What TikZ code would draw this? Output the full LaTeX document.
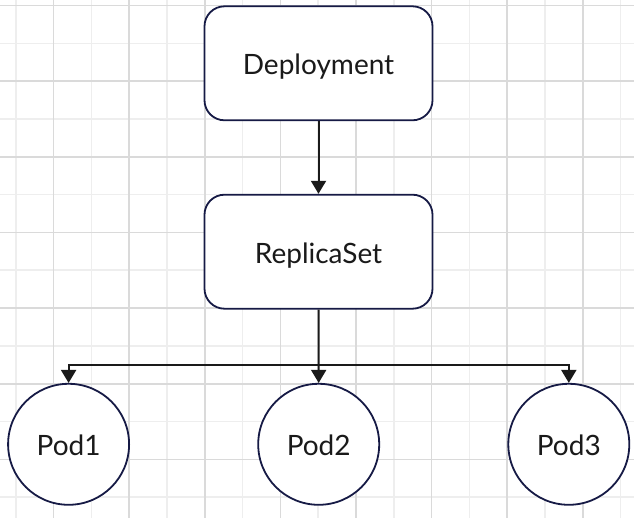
\documentclass[tikz,border=0pt]{standalone}
\usepackage{fontspec}
\newfontfamily\lblfont{Lato}
\usetikzlibrary{arrows.meta}
\definecolor{gridlight}{HTML}{EEEEEE}
\definecolor{griddark}{HTML}{DADADA}
\definecolor{edgeblue}{HTML}{161A45}
\definecolor{inkdark}{HTML}{1A1A1A}
\tikzset{
  lbl/.style={font=\lblfont\fontsize{28}{32}\selectfont, text=inkdark,
    text height=23pt, text depth=0pt},
  box/.style={draw=edgeblue, line width=1.8pt, rounded corners=20pt, fill=white,
    minimum width=228pt, minimum height=114pt, inner sep=0pt, lbl},
  pod/.style={draw=edgeblue, line width=1.8pt, circle, fill=white,
    minimum size=121pt, inner sep=0pt, lbl},
  conn/.style={draw=inkdark, line width=2pt, -{Triangle[length=13pt,width=15pt]}},
  glight/.style={gridlight, line width=1.6pt},
  gdark/.style={griddark, line width=1.6pt},
}
\begin{document}
\begin{tikzpicture}[x=1pt,y=1pt]
\useasboundingbox (0,0) rectangle (634,-518);
\fill[white] (0,0) rectangle (634,-518);
% grid
\foreach \k in {0,2,...,16} {\draw[glight] ({15.7+37.8*\k},0) -- ({15.7+37.8*\k},-518);}
\foreach \k in {1,3,...,13} {\draw[glight] (0,{-5.7-37.8*\k}) -- (634,{-5.7-37.8*\k});}
\foreach \k in {1,3,...,15} {\draw[gdark] ({15.7+37.8*\k},0) -- ({15.7+37.8*\k},-518);}
\foreach \k in {0,2,...,12} {\draw[gdark] (0,{-5.7-37.8*\k}) -- (634,{-5.7-37.8*\k});}
% nodes
\node[box] (dep) at (318.5,-63.3) {Deployment};
\node[box] (rs) at (318.5,-251.7) {ReplicaSet};
\node[pod] (p1) at (68.6,-444.3) {Pod1};
\node[pod] (p2) at (318.7,-444.3) {Pod2};
\node[pod] (p3) at (568.8,-444.3) {Pod3};
\coordinate (j) at (318.7,-365);
% connectors
\draw[conn] (dep.south) -- (rs.north);
\draw[conn] (rs.south) -- (p2.north);
\draw[conn] (j) -| (p1.north);
\draw[conn] (j) -| (p3.north);
\end{tikzpicture}
\end{document}
